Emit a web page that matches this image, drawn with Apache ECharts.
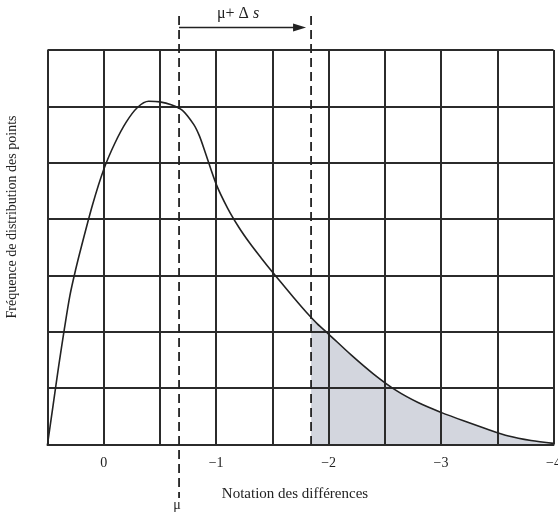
<!DOCTYPE html>
<html>
<head>
<meta charset="utf-8">
<script src="https://cdn.jsdelivr.net/npm/echarts@6/dist/echarts.min.js"></script>
<style>html,body{margin:0;padding:0;background:#fff}#c{width:558px;height:513px}</style>
</head>
<body>
<div id="c"></div>
<script>
// Distance along the axis (shown as negative labels), frequency values
const curveU = [-0.5, -0.45, -0.4, -0.35, -0.3, -0.25, -0.2, -0.1, 0.0, 0.1, 0.2, 0.3, 0.4, 0.5, 0.6, 0.7, 0.8, 0.85, 0.9, 1.0, 1.1, 1.2, 1.3, 1.4, 1.5, 1.6, 1.7, 1.8, 1.9, 2.0, 2.2, 2.4, 2.6, 2.8, 3.0, 3.2, 3.4, 3.6, 3.8, 4.0];
const curveY = [0, 0.7, 1.4, 2.05, 2.65, 3.1, 3.5, 4.25, 4.88, 5.35, 5.72, 5.98, 6.09, 6.08, 6.03, 5.93, 5.68, 5.48, 5.2, 4.62, 4.2, 3.86, 3.57, 3.31, 3.06, 2.82, 2.58, 2.35, 2.14, 1.96, 1.59, 1.25, 0.96, 0.74, 0.57, 0.42, 0.28, 0.15, 0.07, 0.02];
const shadeU = [1.844, 1.9, 2.0, 2.2, 2.4, 2.6, 2.8, 3.0, 3.2, 3.4, 3.6, 3.8, 4.0];
const shadeY = [2.25, 2.14, 1.96, 1.59, 1.25, 0.96, 0.74, 0.57, 0.42, 0.28, 0.15, 0.07, 0.02];
const muU = 0.67;
const muDeltaU = 1.844;
const xTickLabels = {0: '0', 1: '−1', 2: '−2', 3: '−3', 4: '−4'};
const xAxisName = 'Notation des différences';
const yAxisName = 'Fréquence de distribution des points';

const SERIF = '"Liberation Serif","Times New Roman",serif';
const chart = echarts.init(document.getElementById('c'), null, {renderer: 'canvas'});
chart.setOption({
  animation: false,
  grid: {left: 47.5, right: 4.5, top: 50, bottom: 68.5, containLabel: false, outerBoundsMode: 'none'},
  xAxis: {
    type: 'value', min: -0.5, max: 4, interval: 0.5,
    axisLine: {show: true, lineStyle: {color: '#2b2b2b', width: 2}},
    axisTick: {show: false},
    splitLine: {show: true, lineStyle: {color: '#2b2b2b', width: 2}},
    axisLabel: {
      color: '#222', fontFamily: SERIF, fontSize: 14, margin: 12,
      showMaxLabel: true, showMinLabel: true, hideOverlap: false,
      formatter: v => (xTickLabels[v] !== undefined ? xTickLabels[v] : '')
    }
  },
  yAxis: {
    type: 'value', min: 0, max: 7, interval: 1,
    axisLine: {show: true, lineStyle: {color: '#2b2b2b', width: 2}},
    axisTick: {show: false},
    axisLabel: {show: false},
    splitLine: {show: true, lineStyle: {color: '#2b2b2b', width: 2}}
  },
  series: [
    {
      type: 'line', z: -1, smooth: 0.3, showSymbol: false, silent: true,
      data: shadeU.map((u, i) => [u, shadeY[i]]),
      lineStyle: {width: 0},
      areaStyle: {color: '#d3d6de', opacity: 1}
    },
    {
      type: 'line', smooth: 0.3, showSymbol: false, silent: true,
      data: curveU.map((u, i) => [u, curveY[i]]),
      lineStyle: {color: '#222', width: 1.6}
    }
  ]
});

const p = (u, y) => chart.convertToPixel({gridIndex: 0}, [u, y]);
const muTop = p(muU, 7)[0];
const mdX = p(muDeltaU, 7)[0];
const botY = p(0, 0)[1];
const dash = {stroke: '#222', lineWidth: 1.8, lineDash: [9, 5]};
chart.setOption({
  graphic: [
    {type: 'line', z: 100, shape: {x1: muTop, y1: 16, x2: muTop, y2: 498}, style: dash},
    {type: 'line', z: 100, shape: {x1: mdX, y1: 16, x2: mdX, y2: botY}, style: dash},
    {type: 'line', z: 100, shape: {x1: muTop, y1: 27.5, x2: mdX - 12, y2: 27.5}, style: {stroke: '#222', lineWidth: 1.6}},
    {type: 'polygon', z: 100, shape: {points: [[mdX - 5, 27.5], [mdX - 18, 23.5], [mdX - 18, 31.5]]}, style: {fill: '#222'}},
    {type: 'text', z: 100, x: (muTop + mdX) / 2 - 7, y: 14, style: {
      text: '{a|μ+ Δ }{b|s}', align: 'center', verticalAlign: 'middle',
      rich: {a: {fontFamily: SERIF, fontSize: 16, fill: '#222'}, b: {fontFamily: SERIF, fontSize: 16, fontStyle: 'italic', fill: '#222'}}
    }},
    {type: 'text', z: 100, x: muTop - 2, y: 505, style: {text: 'μ', fontFamily: SERIF, fontSize: 14, fill: '#222', align: 'center', verticalAlign: 'middle'}},
    {type: 'text', z: 100, x: 295, y: 494, style: {text: xAxisName, fontFamily: SERIF, fontSize: 15, fill: '#222', align: 'center', verticalAlign: 'middle'}},
    {type: 'text', z: 100, x: 12, y: 217, rotation: Math.PI / 2, style: {text: yAxisName, fontFamily: SERIF, fontSize: 14, fill: '#222', align: 'center', verticalAlign: 'middle'}}
  ]
});
</script>
</body>
</html>
